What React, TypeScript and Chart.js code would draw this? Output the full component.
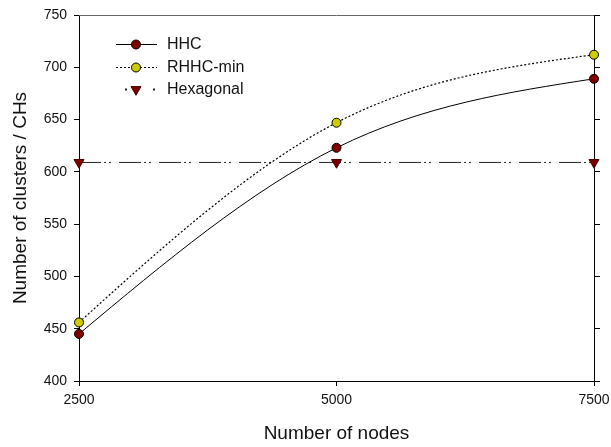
import React, { useEffect, useRef } from 'react';
import { Chart, registerables } from 'chart.js';

Chart.register(...registerables);

const nodes = [2500, 5000, 7500];
const hhc = [445, 623, 689];
const rhhcMin = [456, 647, 712];
const hexagonal = [609, 609, 609];
const seriesNames = ['HHC', 'RHHC-min', 'Hexagonal'];
const xTicks = [2500, 5000, 7500];
const yTicks = [400, 450, 500, 550, 600, 650, 700, 750];
const xTitle = 'Number of nodes';
const yTitle = 'Number of clusters / CHs';

const FONT = '"Liberation Sans", Arial, Helvetica, sans-serif';

// Natural cubic spline control points (applied to the library's own point elements)
const naturalSpline = {
  id: 'naturalSpline',
  beforeDatasetDraw(chart: any, args: any) {
    const meta = args.meta;
    const ds = chart.data.datasets[args.index];
    if (!ds.naturalSpline) return;
    const pts = meta.data;
    const n = pts.length;
    if (n < 3) return;
    const xs = pts.map((p: any) => p.x);
    const ys = pts.map((p: any) => p.y);
    const h: number[] = [];
    for (let i = 0; i < n - 1; i++) h.push(xs[i + 1] - xs[i]);
    // solve tridiagonal for second derivatives M (natural: M0 = Mn-1 = 0)
    const M = new Array(n).fill(0);
    const a: number[] = [], b: number[] = [], c: number[] = [], d: number[] = [];
    for (let i = 1; i < n - 1; i++) {
      a.push(h[i - 1] / 6);
      b.push((h[i - 1] + h[i]) / 3);
      c.push(h[i] / 6);
      d.push((ys[i + 1] - ys[i]) / h[i] - (ys[i] - ys[i - 1]) / h[i - 1]);
    }
    const m = b.length;
    for (let i = 1; i < m; i++) {
      const w = a[i] / b[i - 1];
      b[i] -= w * c[i - 1];
      d[i] -= w * d[i - 1];
    }
    const sol = new Array(m).fill(0);
    for (let i = m - 1; i >= 0; i--) {
      sol[i] = (d[i] - (i < m - 1 ? c[i] * sol[i + 1] : 0)) / b[i];
    }
    for (let i = 0; i < m; i++) M[i + 1] = sol[i];
    for (let i = 0; i < n - 1; i++) {
      const hi = h[i];
      const s = (ys[i + 1] - ys[i]) / hi;
      const mStart = s - (hi * (2 * M[i] + M[i + 1])) / 6;
      const mEnd = s + (hi * (M[i] + 2 * M[i + 1])) / 6;
      pts[i].cp2x = xs[i] + hi / 3;
      pts[i].cp2y = ys[i] + (mStart * hi) / 3;
      pts[i + 1].cp1x = xs[i + 1] - hi / 3;
      pts[i + 1].cp1y = ys[i + 1] - (mEnd * hi) / 3;
    }
    pts[0].cp1x = xs[0];
    pts[0].cp1y = ys[0];
    pts[n - 1].cp2x = xs[n - 1];
    pts[n - 1].cp2y = ys[n - 1];
    meta.dataset._pointsUpdated = true;
    meta.dataset._path = undefined;
  },
};

const frameAndLegend = {
  id: 'frameAndLegend',
  afterDraw(chart: any) {
    const ctx = chart.ctx;
    const { left, right, top } = chart.chartArea;
    ctx.save();
    ctx.strokeStyle = '#666';
    ctx.lineWidth = 1;
    ctx.beginPath();
    ctx.moveTo(left, top + 0.5);
    ctx.lineTo(right, top + 0.5);
    ctx.stroke();

    const x0 = left + 37;
    const x1 = left + 78;
    const xm = left + 57;
    const tx = left + 88;
    const rows = [44, 67, 89];
    chart.data.datasets.forEach((ds: any, i: number) => {
      const y = rows[i] + 0.5;
      ctx.strokeStyle = '#000';
      ctx.lineWidth = 1;
      if (i === 2) {
        ctx.fillStyle = '#222';
        ctx.fillRect(x0 + 9, y - 1, 2, 2);
        ctx.fillRect(x1 - 4, y - 1, 2, 2);
      } else {
        ctx.setLineDash(ds.borderDash || []);
        ctx.beginPath();
        ctx.moveTo(x0, y);
        ctx.lineTo(x1, y);
        ctx.stroke();
        ctx.setLineDash([]);
      }
      ctx.fillStyle = ds.pointBackgroundColor;
      ctx.strokeStyle = ds.pointBorderColor;
      ctx.beginPath();
      if (i === 2) {
        const r = 5.8;
        ctx.moveTo(xm - r * 0.866, y - r * 0.5);
        ctx.lineTo(xm + r * 0.866, y - r * 0.5);
        ctx.lineTo(xm, y + r);
        ctx.closePath();
      } else {
        ctx.arc(xm, y, 4.5, 0, Math.PI * 2);
      }
      ctx.fill();
      ctx.stroke();
      ctx.fillStyle = '#111';
      ctx.font = `16px ${FONT}`;
      ctx.textBaseline = 'middle';
      ctx.textAlign = 'left';
      ctx.fillText(ds.label, tx, y + 0.5);
    });
    ctx.restore();
  },
};

export default function App() {
  const ref = useRef<HTMLCanvasElement | null>(null);
  useEffect(() => {
    document.body.style.margin = '0';
    const canvas = ref.current!;
    const setTicks = (vals: number[]) => (scale: any) => {
      scale.ticks = vals.map((v) => ({ value: v }));
    };
    const chart = new Chart(canvas, {
      type: 'line',
      data: {
        datasets: [
          {
            label: seriesNames[0],
            data: nodes.map((x, i) => ({ x, y: hhc[i] })),
            borderColor: '#000',
            borderWidth: 1,
            tension: 0.4,
            naturalSpline: true,
            pointStyle: 'circle',
            pointRadius: 4.5,
            pointBackgroundColor: '#800000',
            pointBorderColor: '#000',
            pointBorderWidth: 1,
            clip: false,
          },
          {
            label: seriesNames[1],
            data: nodes.map((x, i) => ({ x, y: rhhcMin[i] })),
            borderColor: '#000',
            borderWidth: 1.2,
            borderDash: [2, 2],
            tension: 0.4,
            naturalSpline: true,
            pointStyle: 'circle',
            pointRadius: 4.5,
            pointBackgroundColor: '#cccc00',
            pointBorderColor: '#000',
            pointBorderWidth: 1,
            clip: false,
          },
          {
            label: seriesNames[2],
            data: nodes.map((x, i) => ({ x, y: hexagonal[i] })),
            borderColor: '#222',
            borderWidth: 1,
            borderDash: [22, 3, 2, 3, 2, 8],
            tension: 0,
            pointStyle: 'triangle',
            rotation: 180,
            pointRadius: 5.8,
            pointBackgroundColor: '#7a0000',
            pointBorderColor: '#4a0000',
            pointBorderWidth: 1,
            clip: false,
          },
        ],
      } as any,
      options: {
        responsive: false,
        animation: false,
        events: [],
        layout: { padding: { top: 15, left: 0, right: 0, bottom: 0 } },
        plugins: { legend: { display: false }, tooltip: { enabled: false } },
        scales: {
          x: {
            type: 'linear',
            min: 2500,
            max: 7500,
            afterBuildTicks: setTicks(xTicks),
            afterFit: (s: any) => { s.height = 66; s.paddingLeft = 0; s.paddingRight = 0; },
            grid: { drawOnChartArea: false, drawTicks: true, tickLength: 5, color: '#000' },
            border: { display: true, color: '#000', width: 1 },
            ticks: {
              color: '#111',
              font: { family: FONT, size: 14 },
              padding: 6,
              maxRotation: 0,
              callback: (v: any) => String(v),
            },
            title: {
              display: true,
              text: xTitle,
              color: '#111',
              font: { family: FONT, size: 19 },
              padding: { top: 0, bottom: 2 },
            },
          },
          y: {
            type: 'linear',
            position: 'left',
            min: 400,
            max: 750,
            afterBuildTicks: setTicks(yTicks),
            afterFit: (s: any) => { s.width = 79; s.paddingTop = 0; s.paddingBottom = 0; },
            grid: { drawOnChartArea: false, drawTicks: true, tickLength: 5, color: '#000' },
            border: { display: true, color: '#000', width: 1 },
            ticks: { color: '#111', font: { family: FONT, size: 14 }, padding: 7, callback: (v: any) => String(v) },
            title: {
              display: true,
              text: yTitle,
              color: '#111',
              font: { family: FONT, size: 19 },
              padding: { top: 9, bottom: 0 },
            },
          },
          y2: {
            type: 'linear',
            position: 'right',
            min: 400,
            max: 750,
            afterBuildTicks: setTicks(yTicks),
            afterFit: (s: any) => { s.width = 17; s.paddingTop = 0; s.paddingBottom = 0; },
            grid: { drawOnChartArea: false, drawTicks: true, tickLength: 6, color: '#000' },
            border: { display: true, color: '#000', width: 1 },
            ticks: { display: false },
          },
        },
      } as any,
      plugins: [naturalSpline, frameAndLegend],
    });
    return () => chart.destroy();
  }, []);
  return (
    <div style={{ position: 'absolute', left: 0, top: 0, width: 611, height: 447 }}>
      <canvas ref={ref} width={611} height={447} style={{ width: 611, height: 447, display: 'block' }} />
    </div>
  );
}
